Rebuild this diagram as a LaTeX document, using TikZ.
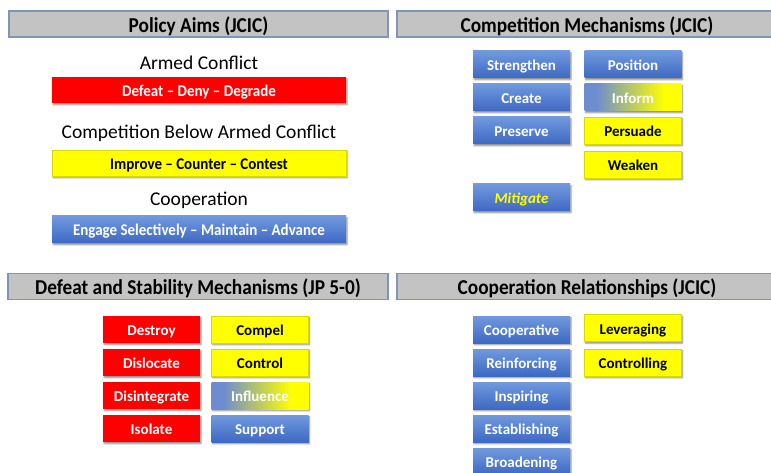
\documentclass[tikz,border=0pt]{standalone}
\usepackage{fontspec}
\setmainfont{Carlito}
\newfontfamily\hdrfont[FakeStretch=0.91]{Carlito}
\newfontfamily\widefont[FakeStretch=0.92]{Carlito}
\usetikzlibrary{shadows.blur}
\definecolor{hdrgray}{HTML}{C3C3C3}
\definecolor{hdrborder}{HTML}{7E96B4}
\definecolor{bluetop}{HTML}{7199DE}
\definecolor{bluebot}{HTML}{3D69C3}
\definecolor{gblue}{HTML}{6D8DD0}
\definecolor{boxred}{HTML}{FF0000}
\definecolor{boxyellow}{HTML}{FFFF00}
\pgfdeclarehorizontalshading{blueyellow}{100bp}{color(0bp)=(gblue); color(31bp)=(gblue); color(66bp)=(boxyellow); color(100bp)=(boxyellow)}
\tikzset{
  hdr/.style={draw=hdrborder, line width=1.2pt, fill=hdrgray, minimum height=26pt, inner sep=0pt,
    text height=16.5pt, text depth=0pt, font=\hdrfont\fontsize{21.2}{23}\selectfont\bfseries},
  lbl/.style={anchor=base, inner sep=0pt, font=\fontsize{19.5}{22}\selectfont},
  shd/.style={blur shadow={shadow xshift=1pt, shadow yshift=-1.8pt, shadow blur steps=4, shadow opacity=45, shadow blur radius=1.5pt}},
  mbox/.style={shd, minimum width=97pt, minimum height=27pt, inner sep=0pt, text height=12pt, text depth=0pt,
    font=\fontsize{15}{17}\selectfont\bfseries},
  wide/.style={minimum width=294pt, text height=12.5pt, font=\widefont\fontsize{16.3}{18}\selectfont\bfseries},
  bluebox/.style={mbox, top color=bluetop, bottom color=bluebot, text=white},
  redbox/.style={mbox, fill=boxred, text=white},
  yelbox/.style={mbox, fill=boxyellow, draw=boxyellow!85!black, line width=0.3pt, text=black},
  mixbox/.style={mbox, shading=blueyellow, text=white},
}
\begin{document}
\begin{tikzpicture}[x=1pt, y=-1pt]
\useasboundingbox (0,0) rectangle (771,473);
\begin{scope}
\clip (0,0) rectangle (771,473);
% headers
\node[hdr, minimum width=379pt] (h1) at (198.5,24) {Policy Aims (JCIC)};
\node[hdr, minimum width=380pt] (h2) at (587,24) {Competition Mechanisms (JCIC)};
\node[hdr, minimum width=380pt] (h3) at (198,286.5) {Defeat and Stability Mechanisms (JP 5-0)};
\node[hdr, minimum width=380pt] (h4) at (587,286.5) {Cooperation Relationships (JCIC)};

% policy aims
\node[lbl] (l1) at (199,69.5) {Armed Conflict};
\node[redbox, wide, minimum height=26pt] (p1) at (199,90) {Defeat – Deny – Degrade};
\node[lbl] (l2) at (199,138.5) {Competition Below Armed Conflict};
\node[yelbox, wide, minimum height=26pt] (p2) at (199,163) {Improve – Counter – Contest};
\node[lbl] (l3) at (199,205.5) {Cooperation};
\node[bluebox, wide] (p3) at (199,229.5) {Engage Selectively – Maintain – Advance};

% competition mechanisms
\node[bluebox] (c1) at (521.5,64.5) {Strengthen};
\node[bluebox] (c2) at (521.5,97.5) {Create};
\node[bluebox] (c3) at (521.5,130.5) {Preserve};
\node[bluebox, text=boxyellow, font=\fontsize{15}{17}\selectfont\bfseries\itshape] (c4) at (521.5,197.5) {Mitigate};
\node[bluebox] (c5) at (633,64.5) {Position};
\node[mixbox] (c6) at (633,97.5) {Inform};
\node[yelbox] (c7) at (633,130.5) {Persuade};
\node[yelbox] (c8) at (633,164.5) {Weaken};

% defeat and stability
\node[redbox] (d1) at (151.5,329.5) {Destroy};
\node[redbox] (d2) at (151.5,362.5) {Dislocate};
\node[redbox] (d3) at (151.5,395.5) {Disintegrate};
\node[redbox] (d4) at (151.5,428.5) {Isolate};
\node[yelbox] (s1) at (260,329.5) {Compel};
\node[yelbox] (s2) at (260,362.5) {Control};
\node[mixbox] (s3) at (260,395.5) {Influence};
\node[bluebox] (s4) at (260,428.5) {Support};

% cooperation relationships
\node[bluebox] (r1) at (521.5,329.5) {Cooperative};
\node[bluebox] (r2) at (521.5,362.5) {Reinforcing};
\node[bluebox] (r3) at (521.5,395.5) {Inspiring};
\node[bluebox] (r4) at (521.5,428.5) {Establishing};
\node[bluebox] (r5) at (521.5,461.5) {Broadening};
\node[yelbox] (r6) at (633,328) {Leveraging};
\node[yelbox] (r7) at (633,362.5) {Controlling};
\end{scope}
\end{tikzpicture}
\end{document}
